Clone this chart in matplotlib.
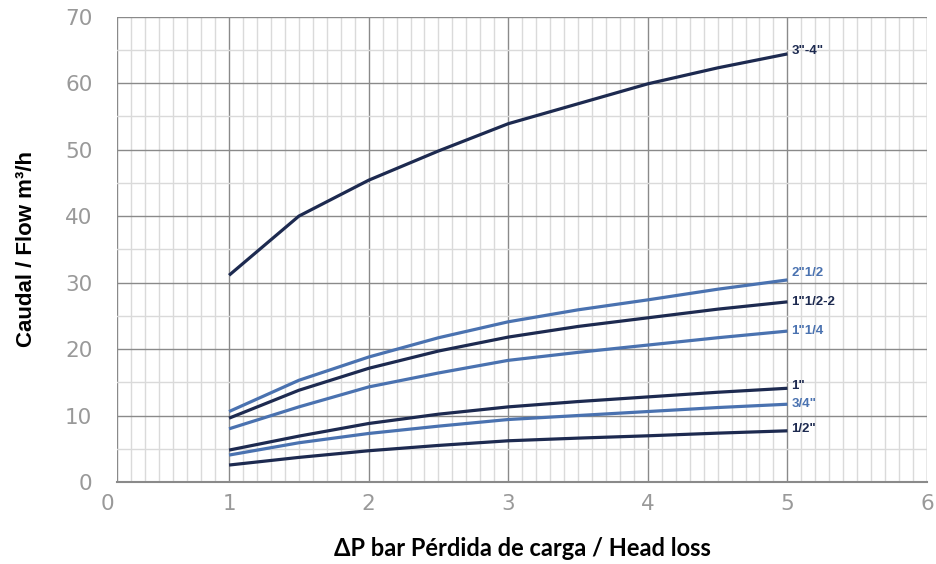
import numpy as np
import matplotlib.pyplot as plt
import matplotlib.transforms as mtransforms
from matplotlib.ticker import MultipleLocator

# head loss (bar)
dp = [1, 1.5, 2, 2.5, 3, 3.5, 4, 4.5, 5]

# flow m3/h per size
q_3_4 = [31.1, 40.0, 45.4, 49.8, 53.9, 56.9, 59.9, 62.3, 64.4]
q_2_12 = [10.6, 15.3, 18.8, 21.7, 24.1, 25.9, 27.4, 29.0, 30.4]
q_1_12 = [9.6, 13.8, 17.1, 19.7, 21.8, 23.4, 24.7, 26.0, 27.1]
q_1_14 = [8.0, 11.3, 14.3, 16.4, 18.3, 19.5, 20.6, 21.7, 22.7]
q_1 = [4.8, 6.9, 8.8, 10.2, 11.3, 12.1, 12.8, 13.5, 14.1]
q_34 = [4.05, 5.9, 7.3, 8.4, 9.4, 10.0, 10.6, 11.2, 11.7]
q_12 = [2.55, 3.7, 4.7, 5.5, 6.2, 6.6, 6.95, 7.35, 7.7]

names = ['3"-4"', '2"1/2', '1"1/2-2', '1"1/4', '1"', '3/4"', '1/2"']
series = [q_3_4, q_2_12, q_1_12, q_1_14, q_1, q_34, q_12]

dark = '#1d2a50'
light = '#4a72b0'
colors = [dark, light, dark, light, dark, light, dark]
label_dy = [0.4, 1.0, 0.0, 0.0, 0.4, 0.0, 0.3]

fig = plt.figure(figsize=(9.37, 5.64), dpi=100)
ax = fig.add_axes([0.1253, 0.1454, 0.8640, 0.8250])

for q, name, c, dy in zip(series, names, colors, label_dy):
    ax.plot(dp, q, color=c, lw=2.3, solid_capstyle='butt', zorder=3)
    ax.text(dp[-1] + 0.03, q[-1] + dy, name, color=c, fontsize=9.5,
            fontweight='bold', family='Liberation Sans', va='center', ha='left')

ax.set_xlim(0.2, 6)
ax.set_ylim(0, 70)
ax.set_xticks([0.2, 1, 2, 3, 4, 5, 6])
ax.set_xticklabels(['0', '1', '2', '3', '4', '5', '6'])
ax.set_yticks(range(0, 71, 10))
ax.xaxis.set_minor_locator(MultipleLocator(0.1))
ax.yaxis.set_minor_locator(MultipleLocator(5))

ax.grid(which='major', color='#8a8a8a', lw=1.0, zorder=1)
ax.grid(which='minor', color='#dadada', lw=1.0, zorder=0)
ax.set_axisbelow(True)

for s in ['top', 'right', 'left']:
    ax.spines[s].set_visible(False)
ax.spines['bottom'].set_color('#8a8a8a')
ax.spines['bottom'].set_linewidth(1.5)

ax.tick_params(which='both', length=0)
ax.tick_params(axis='y', pad=18, labelsize=15.5, labelcolor='#999999')
ax.tick_params(axis='x', pad=9, labelsize=15.5, labelcolor='#999999')

ax.set_xlabel('ΔP bar Pérdida de carga / Head loss', fontsize=17,
              fontweight='bold', family='Lato', labelpad=16)
ax.set_ylabel('Caudal / Flow m³/h', fontsize=16, fontweight='bold',
              family='Liberation Sans', labelpad=20)

# the "0" label sits a little left of the axis edge
lbl0 = ax.xaxis.get_major_ticks()[0].label1
lbl0.set_transform(lbl0.get_transform() +
                   mtransforms.ScaledTranslation(-0.1, 0, fig.dpi_scale_trans))

fig.savefig('out.png', dpi=100)
